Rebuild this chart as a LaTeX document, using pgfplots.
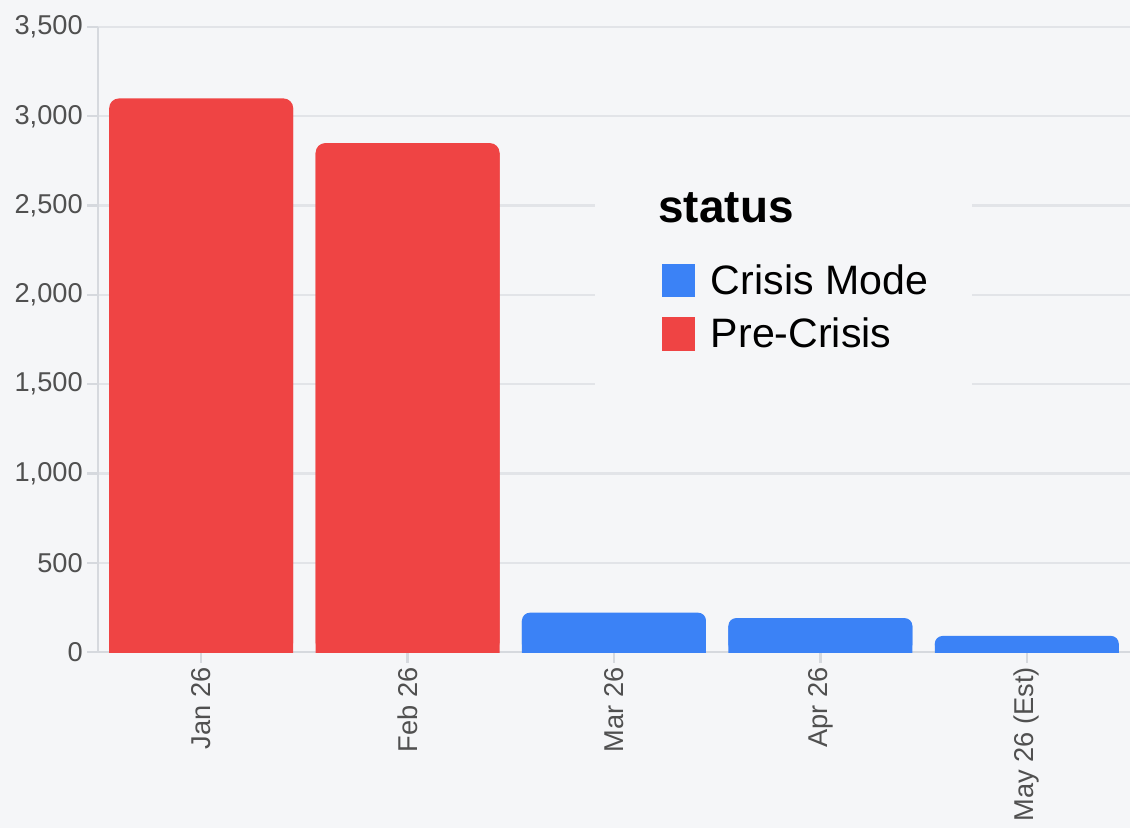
\documentclass[border=0pt]{standalone}
\usepackage{pgfplots}
\pgfplotsset{compat=1.18}
\usepackage{pgfplotstable}
\usepackage{fontspec}
\setmainfont{Liberation Sans}
\definecolor{bgcol}{HTML}{F5F6F8}
\definecolor{gridcol}{HTML}{E2E4E8}
\definecolor{axiscol}{HTML}{D6D9DE}
\definecolor{tickcol}{HTML}{505050}
\definecolor{redbar}{HTML}{EF4444}
\definecolor{bluebar}{HTML}{3B82F6}

\pgfplotstableread{
x y
0 3100
1 2850
}\precrisis
\pgfplotstableread{
x y
2 220
3 190
4 90
}\crisis

\begin{document}
\begin{tikzpicture}
\fill[bgcol] (-35.28pt,-63.36pt) rectangle (371.52pt,234.72pt);
\begin{axis}[
  scale only axis, width=371.52pt, height=225pt,
  xmin=-0.5, xmax=4.5, ymin=0, ymax=3500,
  axis x line*=bottom, axis y line*=left,
  axis line style={draw=axiscol, line width=0.8pt, -},
  ytick={0,500,...,3500},
  xtick={0,1,2,3,4},
  xticklabels={Jan 26, Feb 26, Mar 26, Apr 26, May 26 (Est)},
  x tick label style={rotate=90, anchor=east, font=\fontsize{9.8}{11}\selectfont, text=tickcol, inner sep=1.5pt},
  y tick label style={font=\fontsize{9.8}{11}\selectfont, text=tickcol, inner sep=1.5pt},
  yticklabel style={/pgf/number format/1000 sep={,}},
  /pgf/number format/assume math mode=true,
  scaled y ticks=false,
  ymajorgrids, major grid style={draw=gridcol, line width=0.8pt},
  tick align=outside, major tick length=3.8pt,
  tick style={draw=axiscol, line width=0.8pt},
  ybar, bar width=66.24pt,
  legend style={at={(axis description cs:0.5455,0.6224)}, anchor=north west,
    draw=none, fill=none, inner sep=0pt, row sep=6.6pt,
    font=\fontsize{14.8}{17}\selectfont, nodes={inner sep=0pt},
    /tikz/every odd column/.append style={column sep=5.6pt}},
  legend image code/.code={\fill[#1, sharp corners] (0pt,-5.7pt) rectangle (12.2pt,6.5pt);},
  legend cell align=left,
]
\fill[bgcol] (axis description cs:0.4816,0.39) rectangle (axis description cs:0.847,0.79);
\addplot[fill=bluebar, draw=none, bar shift=0pt, rounded corners=2.8pt] table {\crisis};
\addlegendentry{Crisis Mode}
\addplot[fill=redbar, draw=none, bar shift=0pt, rounded corners=3.5pt] table {\precrisis};
\addlegendentry{Pre-Crisis}
\addplot[forget plot, fill=bluebar, draw=none, bar shift=0pt, yshift=-2.8pt] table {\crisis};
\addplot[forget plot, fill=redbar, draw=none, bar shift=0pt, yshift=-3.5pt] table {\precrisis};
\node[anchor=base west, inner sep=0pt, font=\bfseries\fontsize{16.5}{19}\selectfont] at (axis description cs:0.5426,0.688) {status};
\end{axis}
\pgfresetboundingbox
\path[use as bounding box] (-35.28pt,-63.36pt) rectangle (371.52pt,234.72pt);
\end{tikzpicture}
\end{document}
